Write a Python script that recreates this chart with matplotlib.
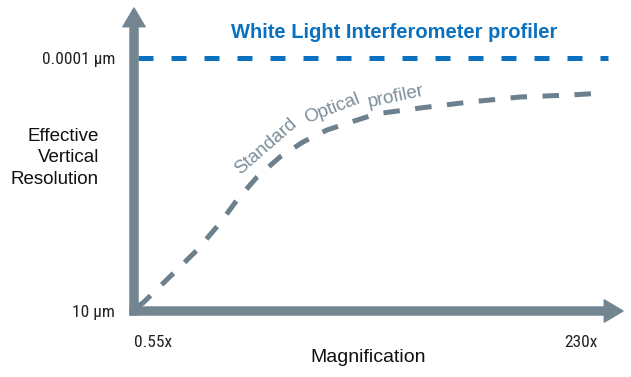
import matplotlib
matplotlib.use("Agg")
import matplotlib.pyplot as plt
from matplotlib import font_manager
from matplotlib.patches import FancyArrowPatch

# data (log-log, resolution axis pointing "up" to finer values)
mag_optical = [0.58, 0.62, 0.89, 1.29, 1.76, 2.21, 2.90, 3.95, 5.39, 7.46, 11.2, 14.6, 26.2, 51.4, 101, 198, 318]
res_optical = [8.0, 6.95, 2.13, 0.625, 0.183, 0.0644, 0.0226, 0.0091, 0.00461, 0.00267,
               0.0017, 0.00128, 0.000984, 0.000748, 0.000597, 0.000545, 0.000497]
res_wli = 0.0001

x_ticks = [0.55, 230]
x_ticklabels = ["0.55x", "230x"]
y_ticks = [10, 0.0001]
y_ticklabels = ["10 µm", "0.0001 µm"]

title_wli = "White Light Interferometer profiler"
label_optical = ["Standard", "Optical", "profiler"]
ylabel = "Effective\nVertical\nResolution"
xlabel = "Magnification"

blue = "#0a71c0"
slate = "#728591"
curve_gray = "#6c808d"
text_gray = "#7b8e99"

# look for a condensed face for the tick labels
names = {f.name for f in font_manager.fontManager.ttflist}
cond = [f.name for f in font_manager.fontManager.ttflist if f.stretch in ("condensed", "semi-condensed")]
narrow_kw = None
for n in ["Liberation Sans Narrow", "Roboto Condensed", "Open Sans Condensed", "DejaVu Sans Condensed"]:
    if n in names:
        narrow_kw = dict(family=[n, "DejaVu Sans"], fontsize=12.5)
        break
if narrow_kw is None:
    if cond:
        narrow_kw = dict(family=[cond[0], "DejaVu Sans"], stretch="condensed", fontsize=12.5)
    else:
        narrow_kw = dict(family=["Liberation Sans", "DejaVu Sans"], fontsize=11)

W, H = 631, 377
fig = plt.figure(figsize=(W / 100, H / 100), dpi=100)
ax = fig.add_axes([134 / W, 66 / H, 489 / W, 303 / H])
ax.set_xscale("log")
ax.set_yscale("log")
ax.set_xlim(0.55, 405.7)
ax.set_ylim(10, 1.045e-5)
for s in ax.spines.values():
    s.set_visible(False)


def px(x, y):
    return x / W, 1 - y / H


regular = ["Liberation Sans", "DejaVu Sans"]

# axis arrows
dx, dy = 4 / 489, 4 / 303
style = "simple,head_length=13.5,head_width=16,tail_width=5.8"
ax.add_patch(FancyArrowPatch((-dx, 0), (1.0, 0), transform=ax.transAxes, arrowstyle=style,
                             mutation_scale=1, shrinkA=0, shrinkB=0, color=slate, clip_on=False, zorder=3))
ax.add_patch(FancyArrowPatch((0, -dy), (0, 1.0), transform=ax.transAxes, arrowstyle=style,
                             mutation_scale=1, shrinkA=0, shrinkB=0, color=slate, clip_on=False, zorder=3))

# lines
ax.axhline(res_wli, xmin=4 / 489, xmax=474 / 489, color=blue, lw=3.6, ls=(0, (3.0, 3.6)))
ax.plot(mag_optical, res_optical, color=curve_gray, lw=3.6, ls=(0, (3.3, 3.1)), clip_on=False)

ax.set_xticks(x_ticks, x_ticklabels, color="#222222", **narrow_kw)
ax.set_yticks(y_ticks, y_ticklabels, color="#222222", **narrow_kw)
ax.minorticks_off()
ax.tick_params(axis="x", length=0, pad=17)
ax.tick_params(axis="y", length=0, pad=13.5)
ax.get_xticklabels()[0].set_horizontalalignment("left")

fig.text(*px(394, 33), title_wli, color=blue, fontsize=14.5, fontweight="bold",
         family=regular, ha="center", va="center")
for word, (x, y), rot in zip(label_optical, [(266, 147), (332, 109), (396, 97)], [41, 21, 12]):
    fig.text(*px(x, y), word, color=text_gray, fontsize=13.5, family=regular,
             rotation=rot, rotation_mode="anchor", ha="center", va="center")

fig.text(*px(99, 158), ylabel, fontsize=13.5, family=regular, ha="right", va="center",
         multialignment="right", linespacing=1.33, color="#111111")
fig.text(*px(368, 357), xlabel, fontsize=14, family=regular, ha="center", va="center", color="#111111")

fig.savefig("out.png", dpi=100)
